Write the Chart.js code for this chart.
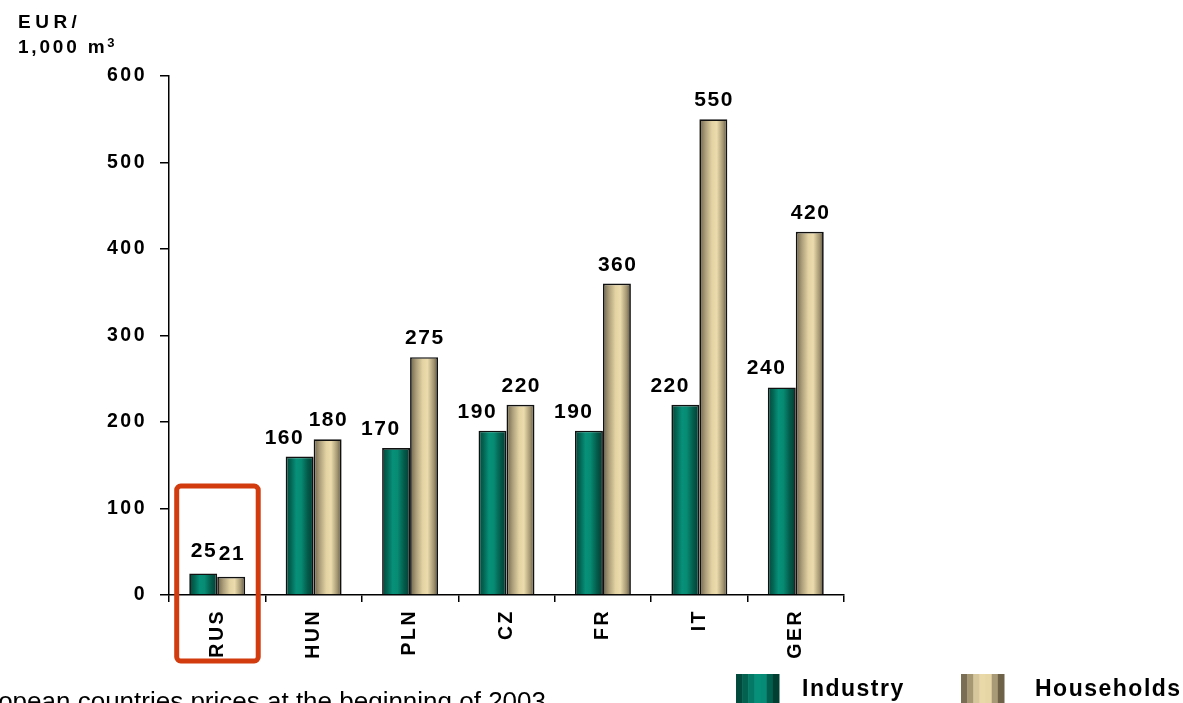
<!DOCTYPE html>
<html>
<head>
<meta charset="utf-8">
<script src="https://cdn.jsdelivr.net/npm/chart.js@4.4.1/dist/chart.umd.min.js"></script>
<style>
  html, body { margin: 0; padding: 0; background: #fff; }
  #wrap { width: 1183px; height: 703px; overflow: hidden; }
</style>
</head>
<body>
<div id="wrap"><canvas id="c" width="1183" height="703"></canvas></div>
<script>
// Gas prices, EUR per 1,000 m3
const countries = ['RUS', 'HUN', 'PLN', 'CZ', 'FR', 'IT', 'GER'];
const industry = [25, 160, 170, 190, 190, 220, 240];
const households = [21, 180, 275, 220, 360, 550, 420];
const yTicks = [0, 100, 200, 300, 400, 500, 600];

const FONT = '"Liberation Sans", Arial, Helvetica, sans-serif';
const CAT_PCT = 0.58;

const industryStops = [
  [0, '#02473a'], [0.18, '#036452'], [0.38, '#07917a'], [0.55, '#078b73'],
  [0.78, '#035c4b'], [1, '#023a30']
];
const householdStops = [
  [0, '#6c6248'], [0.22, '#ad9f7b'], [0.45, '#e3d3a3'], [0.62, '#ecdcad'],
  [0.85, '#a19470'], [1, '#5c5240']
];

// horizontal shading across each bar, computed from the category scale
function barGradient(stops, side) {
  return function (ctx) {
    const chart = ctx.chart;
    const xs = chart.scales.x;
    if (!xs || ctx.dataIndex === undefined) return stops[2][1];
    const c = xs.getPixelForValue(ctx.dataIndex);
    const w = (xs.width / countries.length) * CAT_PCT / 2;
    if (!isFinite(c) || !isFinite(w) || w <= 0) return stops[2][1];
    const x0 = side === 0 ? c - w : c;
    const g = chart.ctx.createLinearGradient(x0, 0, x0 + w, 0);
    stops.forEach(s => g.addColorStop(s[0], s[1]));
    return g;
  };
}

const spacing = {
  id: 'spacing',
  beforeDraw(chart) { chart.ctx.letterSpacing = '2.5px'; },
  beforeUpdate(chart) { chart.ctx.letterSpacing = '2.5px'; }
};

const extras = {
  id: 'extras',
  afterDatasetsDraw(chart) {
    const ctx = chart.ctx;
    ctx.save();
    ctx.fillStyle = '#000';
    ctx.font = 'bold 21px ' + FONT;
    ctx.letterSpacing = '1.5px';
    ctx.textAlign = 'center';
    ctx.textBaseline = 'alphabetic';
    const shiftInd = [0, -16, -16, -16, -16, -16, -16];
    const m0 = chart.getDatasetMeta(0).data;
    const m1 = chart.getDatasetMeta(1).data;
    m0.forEach((el, i) => {
      const gap = i === 0 ? 16 : 13;
      ctx.fillText(String(industry[i]), el.x + shiftInd[i] + 0.8, el.y - gap);
    });
    m1.forEach((el, i) => {
      const gap = i === 0 ? 17 : 13;
      ctx.fillText(String(households[i]), el.x + 0.8, el.y - gap);
    });
    ctx.restore();
  },
  afterDraw(chart) {
    const ctx = chart.ctx;
    const xs = chart.scales.x, ys = chart.scales.y;
    ctx.save();
    // highlight frame around the first category
    const c0 = xs.getPixelForValue(0);
    const L = c0 - 40.5, R = c0 + 41, T = ys.getPixelForValue(126), B = chart.chartArea.bottom + 66;
    ctx.strokeStyle = '#d13b0e';
    ctx.lineWidth = 5;
    ctx.beginPath();
    ctx.roundRect(L, T, R - L, B - T, 4);
    ctx.stroke();

    // unit title
    ctx.fillStyle = '#000';
    ctx.textAlign = 'left';
    ctx.textBaseline = 'alphabetic';
    ctx.font = 'bold 19px ' + FONT;
    ctx.letterSpacing = '4.5px';
    ctx.fillText('EUR/', 18, 28);
    ctx.letterSpacing = '2.8px';
    ctx.fillText('1,000 m', 18, 53);
    const wm = ctx.measureText('1,000 m').width;
    ctx.font = 'bold 13px ' + FONT;
    ctx.fillText('3', 18 + wm, 47);

    // legend
    const sw = (x, cols) => {
      const w = 43 / cols.length;
      cols.forEach((col, k) => { ctx.fillStyle = col; ctx.fillRect(x + k * w, 674, w + 0.5, 30); });
    };
    sw(736, ['#024a3c', '#03614f', '#047a66', '#06907a', '#068c76', '#035f4d', '#023f33']);
    sw(961, ['#7a6f55', '#a59873', '#d6c79c', '#ead9a8', '#e6d5a5', '#a89a76', '#6e6349']);
    ctx.fillStyle = '#000';
    ctx.font = 'bold 23px ' + FONT;
    ctx.letterSpacing = '1.5px';
    ctx.fillText('Industry', 802, 696);
    ctx.fillText('Households', 1035, 696);

    // note
    ctx.font = '26px ' + FONT;
    ctx.letterSpacing = '0px';
    ctx.textAlign = 'right';
    ctx.fillText('European countries prices at the beginning of 2003', 546, 710);
    ctx.restore();
  }
};

new Chart(document.getElementById('c'), {
  type: 'bar',
  data: {
    labels: countries,
    datasets: [
      {
        label: 'Industry',
        data: industry,
        backgroundColor: barGradient(industryStops, 0),
        borderColor: '#111',
        borderWidth: 1.7,
        categoryPercentage: CAT_PCT,
        barPercentage: 1.0
      },
      {
        label: 'Households',
        data: households,
        backgroundColor: barGradient(householdStops, 1),
        borderColor: '#111',
        borderWidth: 1.7,
        categoryPercentage: CAT_PCT,
        barPercentage: 1.0
      }
    ]
  },
  options: {
    responsive: false,
    animation: false,
    events: [],
    layout: { padding: { left: 0, top: 76, right: 339, bottom: 0 } },
    plugins: { legend: { display: false }, tooltip: { enabled: false } },
    scales: {
      x: {
        offset: true,
        grid: { offset: true, drawOnChartArea: false, tickLength: 7, color: '#000', lineWidth: 1.5 },
        border: { color: '#000', width: 1.5 },
        ticks: {
          color: '#000', font: { family: FONT, size: 19.5, weight: 'bold' },
          minRotation: 90, maxRotation: 90, padding: 7, autoSkip: false
        },
        afterFit(s) { s.height = 108; }
      },
      y: {
        min: 0, max: 600,
        afterBuildTicks(s) { s.ticks = yTicks.map(v => ({ value: v })); },
        grid: { drawOnChartArea: false, tickLength: 9, color: '#000', lineWidth: 1.5 },
        border: { color: '#000', width: 1.5 },
        ticks: { color: '#000', font: { family: FONT, size: 19.5, weight: 'bold' }, padding: 13 },
        afterFit(s) { s.width = 169; }
      }
    }
  },
  plugins: [spacing, extras]
});
</script>
</body>
</html>
